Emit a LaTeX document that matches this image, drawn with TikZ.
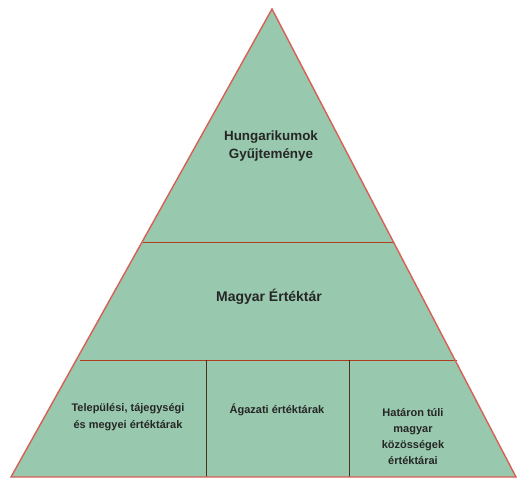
\documentclass[tikz,border=0pt]{standalone}
\usepackage{fontspec}
\setmainfont{Liberation Sans}
\begin{document}
\begin{tikzpicture}[x=1pt,y=-1pt,
  divider/.style={draw=brown!60!red!80!black, line width=0.9pt},
  vdivider/.style={draw=black!60!brown, line width=0.9pt},
  lbl/.style={text=black!85, align=center, inner sep=0pt}]
\useasboundingbox (0,0) rectangle (517,483);
\coordinate (apex) at (272,9);
\coordinate (bl) at (11,477);
\coordinate (br) at (516,477);
\fill[fill={rgb,255:red,152;green,201;blue,174}] (apex) -- (br) -- (bl) -- cycle;
\coordinate (h1l) at (143,242);
\coordinate (h1r) at (393,242);
\coordinate (h2l) at (80,360);
\coordinate (h2r) at (457,360);
\coordinate (v1t) at (206,360);
\coordinate (v1b) at (206,477);
\coordinate (v2t) at (349,360);
\coordinate (v2b) at (349,477);
\draw[divider] (h1l) -- (h1r);
\draw[divider] (h2l) -- (h2r);
\draw[vdivider] (v1t) -- (v1b);
\draw[vdivider] (v2t) -- (v2b);
\draw[draw={rgb,255:red,214;green,96;blue,86}, line width=1.4pt, line join=miter] (apex) -- (br) -- (bl) -- cycle;
\node[lbl, font=\bfseries\fontsize{13.4}{18}\selectfont] (top) at (271,146) {Hungarikumok\\Gyűjteménye};
\node[lbl, font=\bfseries\fontsize{14}{16}\selectfont] (mid) at (269,297) {Magyar Értéktár};
\node[lbl, font=\bfseries\fontsize{11}{17}\selectfont] (b1) at (128,417) {Települési, tájegységi\\és megyei értéktárak};
\node[lbl, font=\bfseries\fontsize{11}{17}\selectfont] (b2) at (277,410) {Ágazati értéktárak};
\node[lbl, font=\bfseries\fontsize{11}{16}\selectfont] (b3) at (413,437) {Határon túli\\magyar\\közösségek\\értéktárai};
\end{tikzpicture}
\end{document}
